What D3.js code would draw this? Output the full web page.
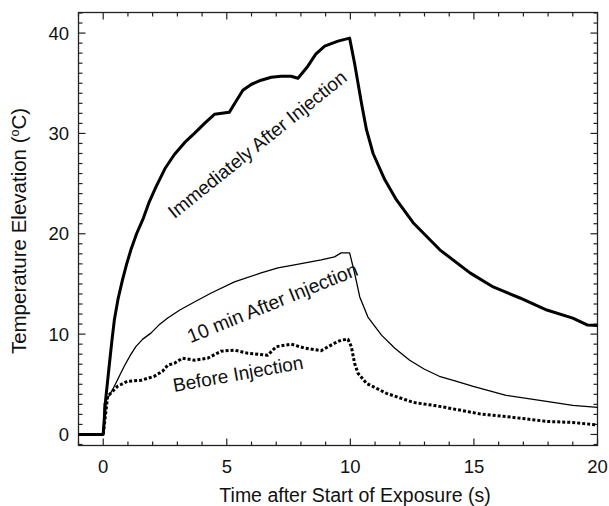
<!DOCTYPE HTML>
<html>
  <head>
    <script src="https://d3js.org/d3.v7.min.js"></script>
    <style>
      body, html {
        margin: 0;
        background: white;
        font-family: 'Liberation Sans', Arial, sans-serif;
      }
      .frame { fill: none; stroke: #222; stroke-width: 1.3px; }
      .tick { stroke: #222; stroke-width: 1.2px; }
      .curve { fill: none; stroke: #000; stroke-linejoin: round; }
      text { fill: #111; }
    </style>
  </head>
  <body>
    <div id="chart"></div>
    <script>
      // time (s) and temperature elevation (C)
      var immT = [-1, 0, 0.1, 0.24, 0.35, 0.45, 0.6, 0.78, 0.95, 1.12, 1.35, 1.6, 1.85, 2.14, 2.5, 2.88, 3.3, 3.69, 4.1, 4.5, 5.1, 5.3, 5.65, 6.0, 6.39, 6.8, 7.2, 7.6, 7.88, 8.28, 8.6, 8.96, 9.5, 9.97,
                  10.17, 10.45, 10.65, 10.92, 11.39, 11.86, 12.54, 13.62, 14.84, 15.78, 16.86, 17.95, 19.0, 19.6, 20];
      var immY = [0, 0, 3.5, 6.8, 9.3, 11.4, 13.5, 15.4, 17.0, 18.4, 20.0, 21.4, 23.1, 24.7, 26.5, 27.9, 29.1, 30.0, 31.0, 31.9, 32.1, 32.9, 34.3, 34.9, 35.3, 35.6, 35.7, 35.7, 35.5, 36.7, 37.9, 38.7, 39.2, 39.5,
                  37.0, 33.0, 30.4, 28.0, 25.4, 23.4, 21.1, 18.4, 16.1, 14.7, 13.6, 12.4, 11.6, 10.9, 10.85];

      var tenT = [-1, 0, 0.04, 0.25, 0.45, 0.65, 0.85, 1.1, 1.32, 1.6, 1.93, 2.25, 2.61, 3.1, 3.69, 4.37, 5.31, 6.39, 7.07, 7.74, 8.82, 9.36, 9.63, 9.97,
                  10.17, 10.38, 10.71, 11.26, 11.8, 12.4, 13.0, 13.6, 14.3, 14.97, 16.3, 17.67, 19.0, 20];
      var tenY = [0, 0, 3.1, 3.9, 4.8, 5.8, 6.8, 7.9, 8.75, 9.5, 10.1, 10.9, 11.6, 12.4, 13.2, 14.1, 15.2, 16.1, 16.6, 16.9, 17.4, 17.7, 18.1, 18.1,
                  16.1, 13.7, 11.7, 9.9, 8.6, 7.4, 6.5, 5.8, 5.3, 4.8, 3.9, 3.4, 2.9, 2.7];

      var befT = [-1, 0, 0.18, 0.58, 0.98, 1.53, 2.07, 2.4, 2.61, 2.88, 3.21, 3.69, 4.23, 4.77, 5.31, 5.85, 6.66, 7.0, 7.61, 8.15, 8.82, 9.36, 9.63, 9.9, 10.04,
                  10.17, 10.31, 10.65, 11.46, 12.54, 13.62, 15.24, 16.6, 17.95, 19.0, 20];
      var befY = [0, 0, 3.8, 4.8, 5.3, 5.4, 5.8, 6.3, 6.9, 7.1, 7.6, 7.4, 7.6, 8.3, 8.4, 8.1, 7.9, 8.75, 9.0, 8.6, 8.35, 9.1, 9.4, 9.5, 8.75,
                  7.1, 6.1, 5.1, 4.1, 3.2, 2.8, 2.05, 1.7, 1.3, 1.2, 0.95];

      var xTicks = [0, 5, 10, 15, 20];
      var yTicks = [0, 10, 20, 30, 40];
      var xMinor = d3.range(-1, 21, 1);
      var yMinor = d3.range(-1, 43, 1);

      var W = 609, H = 506;
      var pl = 78.5, pr = 597.5, pt = 12.5, pb = 445.5;

      var svg = d3.select("#chart").append("svg")
        .attr("width", W)
        .attr("height", H);

      var x = d3.scaleLinear().domain([-1, 20]).range([pl, pr]);
      var y = d3.scaleLinear().domain([-1.1, 42.05]).range([pb, pt]);

      // ticks on all four sides, pointing inward
      var ticks = svg.append("g");
      xMinor.forEach(function(v) {
        var len = v % 5 === 0 ? 7 : 4;
        ticks.append("line").attr("class", "tick")
          .attr("x1", x(v)).attr("x2", x(v)).attr("y1", pb).attr("y2", pb - len);
        ticks.append("line").attr("class", "tick")
          .attr("x1", x(v)).attr("x2", x(v)).attr("y1", pt).attr("y2", pt + len);
      });
      yMinor.forEach(function(v) {
        var len = v % 10 === 0 ? 7 : 4;
        ticks.append("line").attr("class", "tick")
          .attr("x1", pl).attr("x2", pl + len).attr("y1", y(v)).attr("y2", y(v));
        ticks.append("line").attr("class", "tick")
          .attr("x1", pr).attr("x2", pr - len).attr("y1", y(v)).attr("y2", y(v));
      });

      svg.append("rect").attr("class", "frame")
        .attr("x", pl).attr("y", pt)
        .attr("width", pr - pl).attr("height", pb - pt);

      svg.append("g").selectAll("text")
        .data(xTicks)
        .enter()
        .append("text")
          .attr("x", d => x(d))
          .attr("y", 473)
          .attr("text-anchor", "middle")
          .attr("font-size", 18.5)
          .text(d => d);

      svg.append("g").selectAll("text")
        .data(yTicks)
        .enter()
        .append("text")
          .attr("x", 69)
          .attr("y", d => y(d) + 6.5)
          .attr("text-anchor", "end")
          .attr("font-size", 18.5)
          .text(d => d);

      svg.append("text")
        .attr("x", 355)
        .attr("y", 502)
        .attr("text-anchor", "middle")
        .attr("font-size", 19.5)
        .text("Time after Start of Exposure (s)");

      var yt = svg.append("text")
        .attr("transform", "translate(26,231) rotate(-90)")
        .attr("text-anchor", "middle")
        .attr("font-size", 20.5);
      yt.append("tspan").text("Temperature Elevation (");
      yt.append("tspan").attr("font-size", 12.5).attr("dy", -7).text("o");
      yt.append("tspan").attr("dy", 7).text("C)");

      function series(ts, ys) {
        return ts.map((t, i) => [t, ys[i]]);
      }
      var line = d3.line().x(d => x(d[0])).y(d => y(d[1]));

      svg.append("path").attr("class", "curve")
        .attr("d", line(series(befT, befY)))
        .attr("stroke-width", 3)
        .attr("stroke-dasharray", "3,2");
      svg.append("path").attr("class", "curve")
        .attr("d", line(series(tenT, tenY)))
        .attr("stroke-width", 1.3);
      svg.append("path").attr("class", "curve")
        .attr("d", line(series(immT, immY)))
        .attr("stroke-width", 3);

      var labels = [
        {text: "Immediately After Injection", t: 6.4, v: 28.4, angle: -38.8},
        {text: "10 min After Injection", t: 6.95, v: 12.5, angle: -22.1},
        {text: "Before Injection", t: 5.5, v: 5.4, angle: -10.2}
      ];
      svg.append("g").selectAll("text")
        .data(labels)
        .enter()
        .append("text")
          .attr("transform", d => "translate(" + x(d.t) + "," + y(d.v) + ") rotate(" + d.angle + ")")
          .attr("text-anchor", "middle")
          .attr("font-size", d => d.text.length > 20 && d.text[0] === "1" ? 19.5 : 19)
          .text(d => d.text);
    </script>
  </body>
</html>
